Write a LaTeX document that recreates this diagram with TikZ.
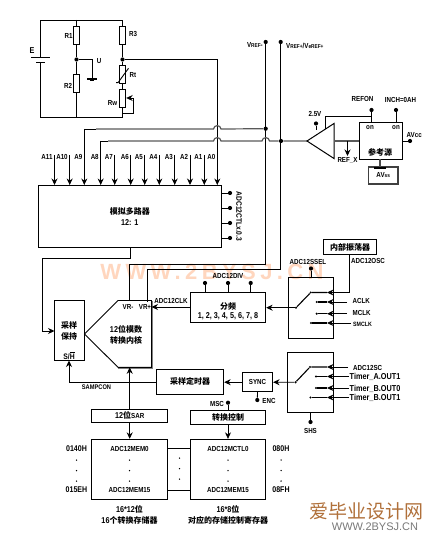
\documentclass[tikz,border=0pt]{standalone}
\usepackage{fontspec}
\setmainfont{Liberation Sans}[FakeStretch=0.85]
\newfontfamily\zhf{Noto Sans CJK SC}
\newfontfamily\wmf{Liberation Sans}[LetterSpace=20]
\newfontfamily\plainf{Liberation Sans}
\newcommand{\zh}[1]{{\zhf\bfseries\fontsize{8}{9}\selectfont #1}}
\newcommand{\sml}[1]{{\fontsize{5.6}{5}\selectfont #1}}
\newcommand{\sized}[2]{{\fontsize{#1}{11}\selectfont #2}}
\usetikzlibrary{arrows.meta}
\definecolor{wmark}{RGB}{255,214,190}
\definecolor{logoc}{RGB}{176,112,58}
\definecolor{logog}{RGB}{120,120,120}
\tikzset{
  wire/.style={line width=0.85pt,line join=miter},
  gwire/.style={line width=1.2pt,black!65},
  arr/.style={wire,-{Stealth[length=6.5pt,width=6pt]}},
  boxn/.style={draw,line width=0.9pt,inner sep=0pt,align=center},
  res/.style={draw,line width=0.9pt,fill=white,inner sep=0pt,minimum width=6.5pt,minimum height=18pt},
  dotn/.style={circle,fill=black,inner sep=0pt,minimum size=4.2pt},
  sdot/.style={circle,fill=black,inner sep=0pt,minimum size=2.4pt},
  lab/.style={inner sep=0pt,align=center,font=\bfseries\fontsize{7.3}{11}\selectfont},
  every node/.append style={font=\bfseries\fontsize{7.3}{11}\selectfont}
}
\begin{document}
\begin{tikzpicture}[x=1pt,y=-1pt]
\useasboundingbox (0,0) rectangle (434,545);
% watermarks
\node[lab,text=wmark,font=\wmf\bfseries\fontsize{22}{22}\selectfont] (wm) at (212,272) {WWW.2BYSJ.CN};
\node[lab,text=logoc,font=\zhf\fontsize{19}{19}\selectfont] (logo1) at (366,511) {爱毕业设计网};
\node[lab,text=logog,font=\plainf\fontsize{11}{11}\selectfont] (logo2) at (375,527) {WWW.2BYSJ.CN};
% bridge circuit
\node[res] (R1) at (76.5,35) {};
\node[res] (R2) at (76.5,83) {};
\node[res] (R3) at (122.5,35) {};
\node[res] (Rt) at (122.5,74) {};
\node[res] (Rw) at (122.5,98) {};
\node[dotn] (nl) at (76.5,59.5) {};
\node[dotn] (nr) at (122.5,59.5) {};
\coordinate (tl) at (40.5,20);
\coordinate (tm) at (76.5,20);
\coordinate (tr) at (122.5,20);
\coordinate (bl) at (40.5,117);
\coordinate (bm) at (76.5,117);
\coordinate (br) at (122.5,117);
\coordinate (bp1) at (40.5,58);
\coordinate (bp2) at (40.5,62.5);
\draw[wire] (bp1) -- (tl) -- (tr) -- (R3.north);
\draw[wire] (bp2) -- (bl) -- (br) -- (Rw.south);
\draw[wire] (tm) -- (R1.north);
\draw[wire] (R1.south) -- (nl) -- (R2.north);
\draw[wire] (R2.south) -- (bm);
\draw[wire] (R3.south) -- (nr) -- (Rt.north);
\draw[wire] (Rt.south) -- (Rw.north);
\draw[line width=1pt] (31,58) -- (50,58);
\draw[line width=1pt] (36,62.5) -- (45,62.5);
\node[lab] (lE) at (32,51) {\fontsize{8.5}{9}\selectfont E};
\node[lab] (lR1) at (68.5,36) {R1};
\node[lab] (lR2) at (68,86) {R2};
\node[lab] (lR3) at (133,34) {R3};
\node[lab] (lRt) at (133,75) {Rt};
\node[lab] (lRw) at (112.5,103) {Rw};
\node[lab] (lU) at (99,61) {U};
\coordinate (gnd) at (92,79);
\draw[wire] (nl) -| (gnd);
\draw[line width=1.2pt] (87,79) -- (97,79);
\draw[line width=.8pt] (90,80.6) -- (94,80.6);
\draw[line width=.9pt] (116,82.7) -- (118,82.7) -- (128.5,68.3);
\coordinate (rwb) at (122.5,113.5);
\coordinate (rwt) at (133.5,98);
\draw[arr] (rwb) -- (133.5,113.5) -- (rwt) -- (Rw.east);
% A inputs
\node[boxn,minimum width=182.5pt,minimum height=62.5pt] (mux) at (129.75,216.25) {\zh{模拟多路器}\\\sized{8.5}{12: 1}};
\foreach \n/\x in {A11/54.5,A10/69.7,A7/114.7,A6/130.7,A5/144.7,A4/159.3,A3/174.7,A2/190,A1/204.3}{
  \coordinate (t\n) at (\x,155);
  \coordinate (e\n) at (\x,185);
  \draw[arr] (t\n) -- (e\n);
}
\foreach \n/\x in {A11/54.5,A10/69.7,A9/84.3,A8/100.7,A7/114.7,A6/130.7,A5/144.7,A4/159.3,A3/174.7,A2/190,A1/204.3,A0/217.3}{
  \node[lab,anchor=east] (l\n) at (\x-1.8,157) {\n};
}
\coordinate (eA0) at (217.3,185);
\coordinate (a0top) at (217.3,59.5);
\draw[wire] (nr) -- (a0top);
\draw[arr] (a0top) -- (eA0);
\coordinate (eA9) at (84.3,185);
\coordinate (eA8) at (100.7,185);
\coordinate (a9t) at (84.3,129);
\coordinate (a8t) at (100.7,141);
\draw[arr] (a9t) -- (eA9);
\draw[arr] (a8t) -- (eA8);
% reference lines
\node[dotn] (vm) at (265.7,42) {};
\node[dotn] (vp) at (280.7,42) {};
\node[dotn] (vj) at (265.7,128.7) {};
\node[dotn] (vk) at (281,141) {};
\coordinate (vmb) at (265.7,264);
\coordinate (vpb) at (280.7,269.5);
\coordinate (vr1) at (129.3,300.5);
\coordinate (vr2) at (147.5,302);
\draw[wire] (vm) -- (vmb) -| (vr1);
\draw[wire] (vp) -- (vpb) -| (vr2);
\node[lab,anchor=east] (lvm) at (263,45) {V\sml{REF}-};
\node[lab,anchor=west] (lvp) at (286,46) {V\sml{REF+}/V\sml{eREF+}};
\draw[wire] (a9t) -- (96,129);
\draw[gwire] (96,129) -- (213.5,129) .. controls (214,124.5) and (220.5,124.5) .. (221,129) -- (vj);
\draw[wire] (a8t) -- (108,141);
\draw[gwire] (108,141) -- (213.5,141) .. controls (214,136.5) and (220.5,136.5) .. (221,141)
  -- (262,141) .. controls (262.5,136.5) and (269,136.5) .. (269.5,141) -- (vk) -- (307,141);
% reference generator
\draw[line width=1pt,fill=white] (307,141) -- (334,123.5) -- (334,158.5) -- cycle;
\coordinate (opm) at (334,141);
\coordinate (optop) at (325.5,129);
\node[boxn,minimum width=42.5pt,minimum height=36.5pt] (ref) at (380.75,140.75) {};
\node[lab] (on1) at (370,128) {on};
\node[lab] (on2) at (396,128) {on};
\node[lab] (cky) at (380,152) {\zh{参考源}};
\draw[gwire] (opm) -- (ref.west |- opm);
\coordinate (rxa) at (347.5,141);
\coordinate (rxb) at (347.5,156);
\draw[arr] (rxa) -- (rxb);
\node[lab] (lrx) at (347.5,160.5) {REF\_X};
\node[dotn] (d25) at (316,123.5) {};
\coordinate (d25b) at (316,130);
\draw[wire] (d25) -- (d25b);
\node[lab] (l25) at (315,114) {2.5V};
\node[dotn] (drefon) at (371.5,110) {};
\node[dotn] (dinch) at (396,110) {};
\coordinate (rfa) at (371.5,122.5);
\coordinate (rfb) at (396,122.5);
\draw[wire] (drefon) -- (rfa);
\draw[wire] (dinch) -- (rfb);
\coordinate (rft) at (371.5,116.7);
\draw[wire] (optop) |- (rft);
\node[lab] (lrefon) at (362.5,99) {REFON};
\node[lab] (linch) at (400.5,100) {INCH=0AH};
\node[dotn] (davcc) at (410,141) {};
\draw[wire] (ref.east |- davcc) -- (davcc);
\node[lab,anchor=west] (lavcc) at (406.5,135) {AVcc};
\node[boxn,line width=1.1pt,draw=black!75,minimum width=29.5pt,minimum height=17pt] (avss) at (383.2,175.5) {AV\sml{ss}};
\coordinate (rfs) at (380,159);
\coordinate (avt) at (380,168);
\draw[line width=1.3pt,black!70] (rfs) -- (avt);
\draw[line width=2pt] (374,168.3) -- (386,168.3);
% ADC12CTL inputs
\foreach \y in {193,208,223,238}{
  \node[dotn] (c\y) at (230,\y) {};
  \draw[wire] (221,\y) -- (c\y);
}
\node[lab,rotate=-90] (lctl) at (239,216.5) {\sized{7.8}{ADC12CTLx.0.3}};
% sample and hold + core
\node[boxn,minimum width=30pt,minimum height=60pt] (sh) at (69.5,330.5) {};
\node[lab] (shtx) at (69,330.5) {\zh{采样}\\\zh{保持}};
\node[lab] (shsh) at (69,355.5) {\sized{8}{S/$\overline{\mbox{H}}$}};
\draw[line width=0.9pt] (84.5,334) -- (118,300.5) -- (151.5,300.5) -- (151.5,367.3) -- (118,367.3) -- cycle;
\draw[line width=0.5pt,black!50] (152.3,301) -- (152.3,368) -- (118,368);
\node[lab] (lvrm) at (128,307) {VR-};
\node[lab] (lvrp) at (145,307) {VR+};
\node[lab] (core) at (126,334.5) {\sized{8.5}{12}\zh{位模数}\\\zh{转换内核}};
\coordinate (muxb) at (130.5,247.5);
\coordinate (mx1) at (130.5,258.5);
\coordinate (mx2) at (42.5,258.5);
\coordinate (mx3) at (54.5,331);
\draw[arr] (muxb) -- (mx1) -- (mx2) |- (mx3);
% divider
\node[boxn,minimum width=75.2pt,minimum height=30pt] (div) at (228.1,307.3) {};
\node[lab] (divz) at (228,306.5) {\zh{分频}};
\node[lab] (divn) at (228,316) {\sized{8.5}{1, 2, 3, 4, 5, 6, 7, 8}};
\coordinate (divw) at (190.5,307);
\coordinate (corev) at (151.5,307);
\draw[arr] (divw) -- (corev);
\node[lab] (lclk) at (171,301) {ADC12CLK};
\foreach \x/\n in {205/a,228/b,250.7/c}{
  \node[dotn] (dv\n) at (\x,283) {};
  \draw[wire] (dv\n) -- (\x,292.3);
}
\node[lab] (ldiv) at (228,276) {ADC12DIV};
% clock select
\node[boxn,minimum width=45pt,minimum height=61pt] (sw1) at (311,307.5) {};
\node[lab] (lssel) at (308,262) {ADC12SSEL};
\node[dotn] (dssel) at (311,268.5) {};
\draw[wire] (dssel) -- (sw1.north);
\node[boxn,minimum width=53pt,minimum height=15pt] (osc) at (350,247) {\zh{内部振荡器}};
\node[lab] (losc) at (368,261) {ADC12OSC};
\node[sdot] (p1) at (296,307.7) {};
\node[sdot] (c1a) at (310.7,292.5) {};
\node[sdot] (c1b) at (316.7,302) {};
\node[sdot] (c1c) at (316.7,313.7) {};
\node[sdot] (c1d) at (311,323) {};
\coordinate (t1a) at (327,292.5);
\draw[line width=1.1pt] (p1) -- (c1a) -- (t1a);
\coordinate (o1) at (349.5,254.5);
\draw[arr] (o1) |- (t1a);
\draw[gwire,black] (c1b) -- (327,302);
\draw[gwire,black] (c1c) -- (327,313.7);
\draw[gwire,black] (c1d) -- (327,323);
\coordinate (i1b) at (347,302);
\coordinate (i1c) at (347,313.7);
\coordinate (i1d) at (350.5,323);
\draw[arr] (i1b) -- (327,302);
\draw[arr] (i1c) -- (327,313.7);
\draw[arr] (i1d) -- (327,323);
\draw[arr] (p1) -- (div.east |- p1);
\node[lab,anchor=west] (lacl) at (352.5,301) {ACLK};
\node[lab,anchor=west] (lmcl) at (352.5,313) {MCLK};
\node[lab,anchor=west] (lscl) at (353,324) {\sized{6.2}{SMCLK}};
% trigger select
\node[boxn,minimum width=46pt,minimum height=60pt] (sw2) at (310.5,382.5) {};
\node[sdot] (p2) at (295.5,382.3) {};
\node[sdot] (c2a) at (310,367) {};
\node[sdot] (c2b) at (316,376.5) {};
\node[sdot] (c2c) at (316,388) {};
\node[sdot] (c2d) at (310.5,397.5) {};
\coordinate (t2a) at (327,367);
\draw[line width=1.1pt] (p2) -- (c2a) -- (t2a);
\foreach \n/\y/\e in {a/367/348,b/376.5/349,c/388/349,d/397.5/349}{
  \coordinate (i2\n) at (\e,\y);
  \draw[arr] (i2\n) -- (327,\y);
}
\draw[gwire,black] (c2b) -- (327,376.5);
\draw[gwire,black] (c2c) -- (327,388);
\draw[gwire,black] (c2d) -- (327,397.5);
\node[lab,anchor=west] (ltr1) at (353,367.5) {ADC12SC};
\node[lab,anchor=west] (ltr2) at (349.5,377) {\sized{8.6}{Timer\_A.OUT1}};
\node[lab,anchor=west] (ltr3) at (349.5,388.5) {\sized{8.6}{Timer\_B.OUT0}};
\node[lab,anchor=west] (ltr4) at (349.5,398) {\sized{8.6}{Timer\_B.OUT1}};
\node[dotn] (dshs) at (310.5,422) {};
\draw[wire] (sw2.south) -- (dshs);
\node[lab] (lshs) at (310.5,431) {SHS};
% sync and timer
\node[boxn,minimum width=30.2pt,minimum height=19pt] (sync) at (257.5,382.2) {SYNC};
\node[boxn,minimum width=67pt,minimum height=25pt] (tim) at (190.2,381.8) {\zh{采样定时器}};
\draw[arr] (p2) -- (sync.east);
\draw[arr] (sync.west) -- (tim.east |- sync);
\node[dotn] (denc) at (257.3,400) {};
\draw[wire] (sync.south) -- (denc);
\node[lab] (lenc) at (269,400.5) {ENC};
\coordinate (shb) at (69,360.5);
\coordinate (shl) at (69,382);
\draw[wire] (tim.west |- shl) -- (shl);
\draw[arr] (shl) -- (shb);
\node[lab] (lsam) at (96.5,387) {\sized{6.7}{SAMPCON}};
% SAR and memory
\node[boxn,minimum width=76pt,minimum height=13pt] (sar) at (129.7,415.8) {\sized{8.5}{12}\zh{位}SAR};
\node[boxn,minimum width=75.4pt,minimum height=14.3pt] (ctl) at (228,417.2) {\zh{转换控制}};
\node[boxn,minimum width=76pt,minimum height=60pt] (mem) at (129.7,469.3) {};
\node[boxn,minimum width=75.4pt,minimum height=60pt] (mct) at (228,469.3) {};
\coordinate (cb) at (129.7,367.3);
\draw[arr] (sar.north) -- (cb);
\draw[arr] (sar.south) -- (mem.north);
\draw[arr] (ctl.south) -- (mct.north);
\node[dotn] (dmsc) at (228,402.7) {};
\draw[wire] (dmsc) -- (ctl.north);
\node[lab] (lmsc) at (217,404) {MSC};
\draw[wire] (mem.east |- 0,448.5) -- (mct.west |- 0,448.5);
\draw[wire] (mem.east |- 0,490) -- (mct.west |- 0,490);
\foreach \y in {458,468.5,479}{ \node[sdot,minimum size=1.5pt] (m\y) at (179.5,\y) {}; }
\foreach \x in {76.5,129.5,228,281}{
  \foreach \y in {460,470.5,481}{ \node[sdot,minimum size=1.5pt] (k\x\y) at (\x,\y) {}; }
}
\node[lab] (m0) at (129.5,449) {ADC12MEM0};
\node[lab] (m15) at (129.5,490) {ADC12MEM15};
\node[lab] (ct0) at (228,449) {ADC12MCTL0};
\node[lab] (ct15) at (228,490) {ADC12MEM15};
\node[lab] (a1) at (76.5,449) {\sized{8.3}{0140H}};
\node[lab] (a2) at (76.5,490) {\sized{8.3}{015EH}};
\node[lab] (a3) at (281,449) {\sized{8.3}{080H}};
\node[lab] (a4) at (281,490) {\sized{8.3}{08FH}};
\node[lab] (cap1) at (129.5,514.5) {\sized{8.5}{16*12}\zh{位}\\\sized{8.5}{16}\zh{个转换存储器}};
\node[lab] (cap2) at (228,514.5) {\sized{8.5}{16*8}\zh{位}\\\zh{对应的存储控制寄存器}};
\end{tikzpicture}
\end{document}
